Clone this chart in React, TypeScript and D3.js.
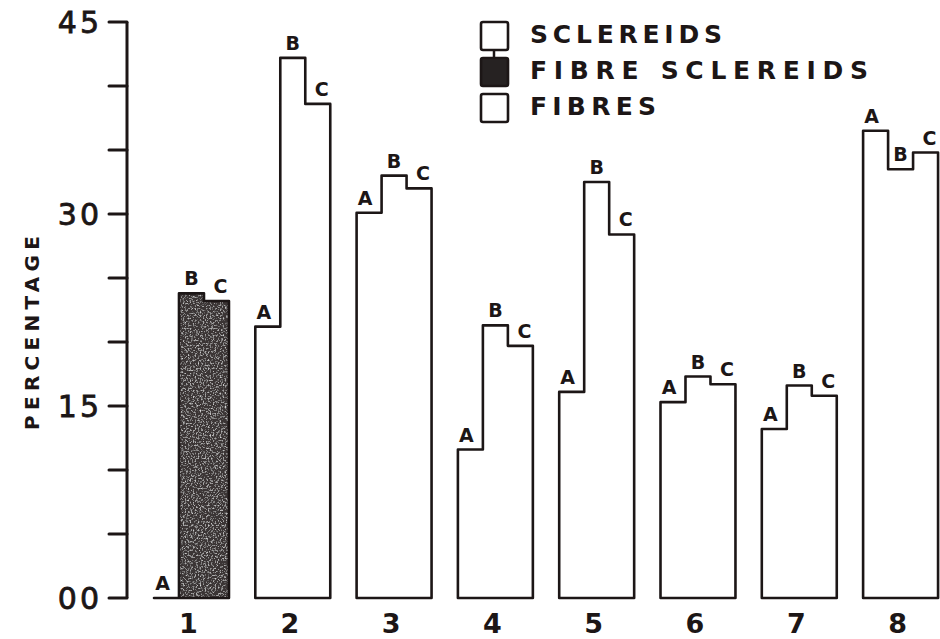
import React from 'react';
import * as d3 from 'd3';

const groups = ['1', '2', '3', '4', '5', '6', '7', '8'];
const subs = ['A', 'B', 'C'];
const valuesA = [0, 21.2, 30.1, 11.6, 16.1, 15.3, 13.2, 36.5];
const valuesB = [23.8, 42.2, 33.0, 21.3, 32.5, 17.3, 16.6, 33.5];
const valuesC = [23.2, 38.6, 32.0, 19.7, 28.4, 16.7, 15.8, 34.8];
const groupKind = ['fibreSclereids', 'open', 'open', 'open', 'open', 'open', 'open', 'open'];
const yTicks = [0, 5, 10, 15, 20, 25, 30, 35, 40, 45];
const yLabels: [number, string][] = [[0, '00'], [15, '15'], [30, '30'], [45, '45']];
const legendItems = [
  { label: 'SCLEREIDS', filled: false, len: 192 },
  { label: 'FIBRE SCLEREIDS', filled: true, len: 338 },
  { label: 'FIBRES', filled: false, len: 126 },
];

const W = 940;
const H = 639;
const INK = '#1c1616';
const FONT = '"DejaVu Sans", Verdana, sans-serif';

export default function App() {
  const y = d3.scaleLinear().domain([0, 45]).range([598, 22]);
  const step = 101.3;
  const x = d3.scaleBand<string>().domain(groups).range([154, 154 + step * (8 - 0.26)]).paddingInner(0.26).paddingOuter(0);
  const xs = d3.scaleBand<string>().domain(subs).range([0, x.bandwidth()]).padding(0);
  const axisX = 127;

  const series = [valuesA, valuesB, valuesC];

  const stepPath = (gi: number) => {
    const x0 = x(groups[gi])!;
    const p = d3.path();
    p.moveTo(x0, y(0));
    subs.forEach((s, si) => {
      const v = series[si][gi];
      const sx = x0 + xs(s)!;
      p.lineTo(sx, y(v));
      p.lineTo(sx + xs.bandwidth(), y(v));
    });
    p.lineTo(x0 + x.bandwidth(), y(0));
    p.closePath();
    return p.toString();
  };

  // filled part (only sub-bars with a value)
  const fillPath = (gi: number) => {
    const x0 = x(groups[gi])!;
    const p = d3.path();
    let started = false;
    subs.forEach((s, si) => {
      const v = series[si][gi];
      if (v <= 0) return;
      const sx = x0 + xs(s)!;
      if (!started) {
        p.moveTo(sx, y(0));
        started = true;
      }
      p.lineTo(sx, y(v));
      p.lineTo(sx + xs.bandwidth(), y(v));
    });
    p.lineTo(x0 + x.bandwidth(), y(0));
    p.closePath();
    return p.toString();
  };

  const subOffset = [-4, 0, 4];

  return (
    <svg width={W} height={H} style={{ position: 'absolute', left: 0, top: 0, background: '#fff' }} fontFamily={FONT}>
      <defs>
        <filter id="speckle" x="0" y="0" width="100%" height="100%">
          <feTurbulence type="fractalNoise" baseFrequency="0.6" numOctaves="3" seed="3" result="noise" />
          <feColorMatrix in="noise" type="matrix"
            values="0 0 0 0 0.78  0 0 0 0 0.78  0 0 0 0 0.78  0 0 0 2.4 -1.25" result="dots" />
          <feComposite in="dots" in2="SourceGraphic" operator="in" result="clipped" />
          <feMerge>
            <feMergeNode in="SourceGraphic" />
            <feMergeNode in="clipped" />
          </feMerge>
        </filter>
      </defs>
      <rect width={W} height={H} fill="#fff" />

      {/* y axis */}
      <line x1={axisX} x2={axisX} y1={y(45)} y2={y(0)} stroke={INK} strokeWidth={3} />
      {yTicks.map(t => (
        <line key={t} x1={axisX - 18} x2={axisX} y1={y(t)} y2={y(t)} stroke={INK} strokeWidth={3} strokeLinecap="round" />
      ))}
      {yLabels.map(([v, l]) => (
        <text key={l} x={102} y={y(v)} dy="0.36em" textAnchor="end" fontSize={30} fill={INK}
          stroke={INK} strokeWidth={0.8} letterSpacing={3}>{l}</text>
      ))}
      <text transform={`translate(39,${333}) rotate(-90)`} textAnchor="middle" fontSize={20} fontWeight="bold" fill={INK}
        textLength={194} lengthAdjust="spacing">PERCENTAGE</text>

      {/* bars */}
      {groups.map((g, gi) => (
        <g key={g}>
          {groupKind[gi] === 'fibreSclereids' && (
            <path d={fillPath(gi)} fill="#3a3535" filter="url(#speckle)" />
          )}
          <path d={stepPath(gi)} fill="none" stroke={INK} strokeWidth={2.6} strokeLinejoin="round" />
          {subs.map((s, si) => {
            const v = series[si][gi];
            return (
              <text key={s} x={x(g)! + xs(s)! + xs.bandwidth() / 2 + subOffset[si]} y={y(v) - 8}
                textAnchor="middle" fontSize={19} fontWeight="bold" fill={INK}>{s}</text>
            );
          })}
          <text x={x(g)! + x.bandwidth() / 2 - 3} y={633} textAnchor="middle" fontSize={27} fontWeight="bold" fill={INK}>{g}</text>
        </g>
      ))}

      {/* legend */}
      <line x1={494} x2={494} y1={50} y2={58} stroke={INK} strokeWidth={2.5} />
      {legendItems.map((it, i) => {
        const top = 22 + i * 36;
        return (
          <g key={it.label}>
            <rect x={481} y={top} width={27} height={28} rx={2} fill={it.filled ? '#262222' : '#fff'} stroke={INK} strokeWidth={2.6} />
            <text x={530} y={top + 12} dy="0.36em" fontSize={25} fontWeight="bold" fill={INK}
              textLength={it.len} lengthAdjust="spacing">{it.label}</text>
          </g>
        );
      })}
    </svg>
  );
}
